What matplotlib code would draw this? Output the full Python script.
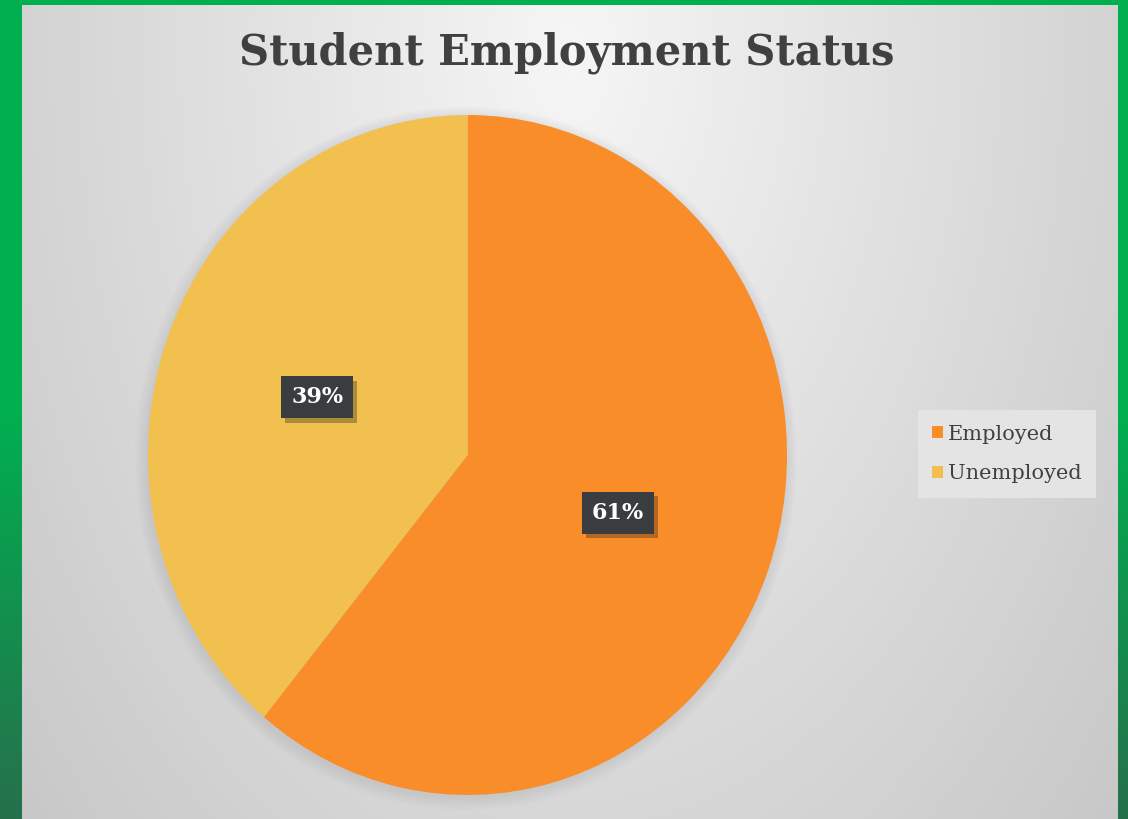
import numpy as np
import matplotlib
matplotlib.use("Agg")
import matplotlib.pyplot as plt
from matplotlib.patches import Patch, Ellipse
import matplotlib.patheffects as pe

# data
categories = ["Employed", "Unemployed"]
shares = [61, 39]
colors = ["#F88D2A", "#F1C04F"]

W, H = 1128, 819
fig = plt.figure(figsize=(W / 100, H / 100), dpi=100)

# green frame with darker lower part
bg = fig.add_axes([0, 0, 1, 1])
bg.axis("off")
t = np.linspace(0, 1, H)[:, None]
k = np.clip((t - 0.5) / 0.5, 0, 1)
top = np.array([0, 176, 80]) / 255
bot = np.array([38, 112, 76]) / 255
frame = top[None, None, :] * (1 - k[..., None]) + bot[None, None, :] * k[..., None]
frame = np.repeat(frame, W, axis=1)
bg.imshow(frame, aspect="auto", extent=[0, 1, 0, 1])
bg.set_xlim(0, 1)
bg.set_ylim(0, 1)

# light grey panel with radial gradient
x0, x1, ytop = 22, 1118, 5
panel = fig.add_axes([x0 / W, 0, (x1 - x0) / W, (H - ytop) / H])
panel.axis("off")
xx, yy = np.meshgrid(np.arange(x0, x1), np.arange(ytop, H))
d = np.sqrt(((xx - 570) / 600) ** 2 + ((yy - 50) / 950) ** 2)
v = np.clip(246 - 38 * d, 196, 250) / 255
panel.imshow(np.dstack([v, v, v]), aspect="auto", extent=[0, 1, 0, 1])
panel.set_xlim(0, 1)
panel.set_ylim(0, 1)

# pie (stretched slightly, like the original)
pl, pr, pt, pb = 148, 787, 115, 795
ax = fig.add_axes([pl / W, (H - pb) / H, (pr - pl) / W, (pb - pt) / H])
for i in range(8):
    ax.add_patch(Ellipse((-0.006, -0.01), 2 + 0.01 * i, 2 + 0.01 * i,
                         color="#9a9aaa", alpha=0.03, lw=0, zorder=0,
                         clip_on=False))
wedges, texts, autotexts = ax.pie(
    shares, colors=colors, startangle=90, counterclock=False,
    autopct="%1.0f%%", pctdistance=0.5,
    wedgeprops=dict(linewidth=0),
    textprops=dict(color="white", fontsize=16, fontweight="bold",
                   family="DejaVu Serif"))
for w in wedges:
    w.set_zorder(2)
for a in autotexts:
    a.set_zorder(5)
    a.set_bbox(dict(boxstyle="square,pad=0.45", fc="#3a3d40", ec="none"))
    a.get_bbox_patch().set_path_effects(
        [pe.SimplePatchShadow(offset=(3, -3), alpha=0.3), pe.Normal()])
ax.set_aspect("auto")
ax.set_xlim(-1, 1)
ax.set_ylim(-1, 1)
ax.axis("off")

fig.text(567 / W, 1 - 53 / H, "Student Employment Status", ha="center", va="center",
         fontsize=30, fontweight="heavy", family="DejaVu Serif", color="#404040")

handles = [Patch(facecolor=c, edgecolor="none") for c in colors]
leg = fig.legend(handles, categories, loc="center",
                 bbox_to_anchor=(1007 / W, 1 - 454 / H),
                 frameon=True, facecolor="#e4e4e4", edgecolor="none", framealpha=1,
                 fancybox=False, handlelength=0.5, handleheight=0.5,
                 handletextpad=0.25, labelspacing=1.0, borderpad=0.7,
                 borderaxespad=0, prop=dict(family="DejaVu Serif", size=15))
for txt in leg.get_texts():
    txt.set_color("#404040")

fig.savefig("out.png", dpi=100)
